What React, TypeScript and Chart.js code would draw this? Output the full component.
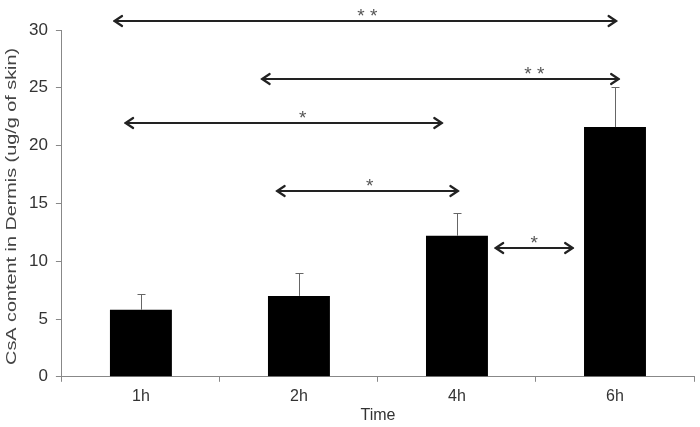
import React, { useEffect, useRef } from "react";
import { Chart, registerables } from "chart.js";

Chart.register(...registerables);

const categories = ["1h", "2h", "4h", "6h"];
const meanValues = [5.8, 7.0, 12.2, 21.6];
const errorValues = [1.4, 1.95, 1.98, 3.45];
const yTicks = [0, 5, 10, 15, 20, 25, 30];
const yTitle = "CsA content in Dermis (ug/g of skin)";
const xTitle = "Time";

// comparison brackets: start/end in category index units, level in data units
const compStart = [-0.17, 0.764, -0.1, 0.859, 2.242];
const compEnd = [3.01, 3.026, 1.907, 2.009, 2.735];
const compLevel = [30.77, 25.76, 21.95, 16.08, 11.15];
const compLabel = ["**", "**", "*", "*", "*"];
const compLabelPos = [1.433, 2.489, 1.023, 1.447, 2.489];

const FONT = "'Liberation Sans', Arial, sans-serif";

const annotPlugin = {
  id: "annot",
  afterDatasetsDraw(chart: any) {
    const ctx = chart.ctx;
    const xs = chart.scales.x;
    const ys = chart.scales.y;
    const meta = chart.getDatasetMeta(0);
    const area = chart.chartArea;
    ctx.save();
    // error bars
    ctx.strokeStyle = "#666";
    ctx.lineWidth = 1;
    meta.data.forEach((bar: any, i: number) => {
      const x = Math.round(bar.x) + 0.5;
      const yTop = ys.getPixelForValue(meanValues[i]);
      const yErr = Math.round(ys.getPixelForValue(meanValues[i] + errorValues[i])) + 0.5;
      ctx.beginPath();
      ctx.moveTo(x, yTop);
      ctx.lineTo(x, yErr);
      ctx.moveTo(x - 4, yErr);
      ctx.lineTo(x + 4, yErr);
      ctx.stroke();
    });
    // arrows
    const idxToPx = (v: number) => {
      const p0 = xs.getPixelForValue(0);
      const p1 = xs.getPixelForValue(1);
      return p0 + (p1 - p0) * v;
    };
    ctx.lineCap = "round";
    ctx.lineJoin = "round";
    for (let i = 0; i < compStart.length; i++) {
      const x1 = idxToPx(compStart[i]);
      const x2 = idxToPx(compEnd[i]);
      const y = Math.round(ys.getPixelForValue(compLevel[i]));
      ctx.strokeStyle = "#222";
      ctx.lineWidth = 2.2;
      ctx.beginPath();
      ctx.moveTo(x1, y);
      ctx.lineTo(x2, y);
      ctx.moveTo(x1 + 8, y - 5);
      ctx.lineTo(x1 + 0.5, y);
      ctx.lineTo(x1 + 8, y + 5);
      ctx.moveTo(x2 - 8, y - 5);
      ctx.lineTo(x2 - 0.5, y);
      ctx.lineTo(x2 - 8, y + 5);
      ctx.stroke();
      ctx.fillStyle = "#555";
      ctx.font = "19px " + FONT;
      ctx.textAlign = "center";
      ctx.textBaseline = "alphabetic";
      const label = compLabel[i].split("").join(" ");
      ctx.fillText(label, idxToPx(compLabelPos[i]), y + 1);
    }
    // y axis title, stretched along its length
    ctx.save();
    ctx.fillStyle = "#444";
    ctx.font = "14px " + FONT;
    ctx.textAlign = "center";
    ctx.textBaseline = "middle";
    ctx.translate(12, (area.top + area.bottom) / 2 + 3);
    ctx.rotate(-Math.PI / 2);
    const w = ctx.measureText(yTitle).width;
    ctx.scale(317 / w, 1);
    ctx.fillText(yTitle, 0, 0);
    ctx.restore();
    ctx.restore();
  },
};

export default function App() {
  const ref = useRef<HTMLCanvasElement>(null);
  useEffect(() => {
    if (!ref.current) return;
    const chart = new Chart(ref.current, {
      type: "bar",
      data: {
        labels: categories,
        datasets: [
          {
            data: meanValues,
            backgroundColor: "#000",
            borderColor: "#000",
            borderWidth: 0,
            barPercentage: 0.392,
            categoryPercentage: 1,
          },
        ],
      },
      options: {
        animation: false,
        responsive: false,
        maintainAspectRatio: false,
        layout: { padding: { top: 30, right: 6, left: 21, bottom: 0 } },
        plugins: { legend: { display: false }, tooltip: { enabled: false } },
        scales: {
          x: {
            offset: true,
            grid: {
              offset: true,
              drawOnChartArea: false,
              drawTicks: true,
              tickLength: 5,
              color: "#888",
            },
            border: { color: "#888", width: 1 },
            ticks: {
              color: "#333",
              font: { family: FONT, size: 16, lineHeight: 1.0 },
              padding: 7,
            },
            title: {
              display: true,
              text: xTitle,
              color: "#333",
              font: { family: FONT, size: 16 },
              padding: { top: -6, bottom: 2 },
            },
          },
          y: {
            min: 0,
            max: 30,
            afterBuildTicks: (axis: any) => {
              axis.ticks = yTicks.map((v) => ({ value: v }));
            },
            grid: {
              drawOnChartArea: false,
              drawTicks: true,
              tickLength: 6,
              color: "#888",
            },
            border: { color: "#888", width: 1 },
            ticks: {
              color: "#333",
              font: { family: FONT, size: 17 },
              padding: 8,
            },
          },
        },
      },
      plugins: [annotPlugin],
    });
    return () => chart.destroy();
  }, []);
  return (
    <div style={{ position: "fixed", left: 0, top: 0, width: 700, height: 427, background: "#fff" }}>
      <canvas ref={ref} width={700} height={427} />
    </div>
  );
}
